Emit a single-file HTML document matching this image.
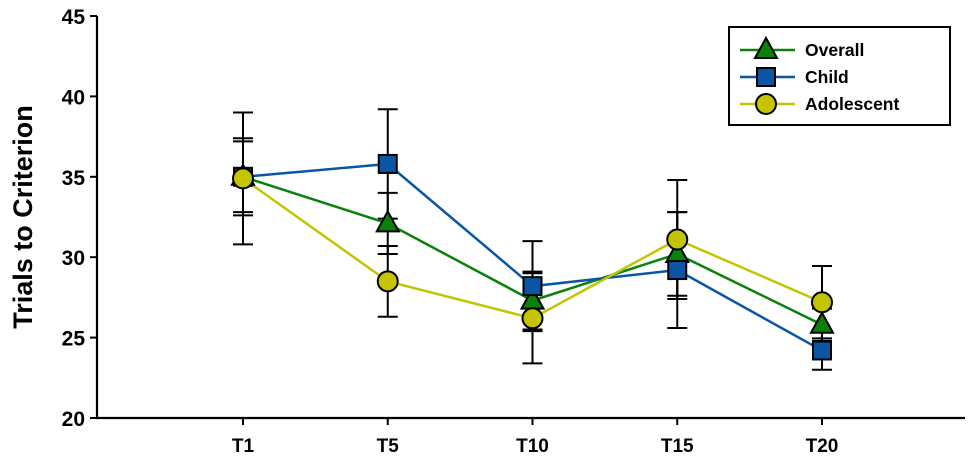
<!DOCTYPE html>
<html><head><meta charset="utf-8"><style>
body{margin:0;background:#fff}
svg{display:block;font-family:"Liberation Sans",Arial,sans-serif;font-weight:bold}
</style></head><body>
<svg id="c" width="969" height="470"></svg>
<script>
const categories=["T1","T5","T10","T15","T20"];
const overall=[35.0,32.1,27.3,30.2,25.8];
const overallErr=[2.4,1.9,1.8,2.6,1.0];
const child=[35.0,35.8,28.2,29.2,24.2];
const childErr=[2.2,3.4,2.8,3.6,1.2];
const adolescent=[34.9,28.5,26.2,31.1,27.2];
const adolescentErr=[4.1,2.2,2.8,3.7,2.25];
const yTicks=[20,25,30,35,40,45];

const NS="http://www.w3.org/2000/svg";
const svg=document.getElementById('c');
const L=97,R=965,T=16,B=418;
const y=v=>B-(v-20)/(45-20)*(B-T);
const x=i=>243+i*144.75;
function el(t,a,p){const e=document.createElementNS(NS,t);for(const k in a)e.setAttribute(k,a[k]);(p||svg).appendChild(e);return e;}

const axes=el('path',{d:`M${L},${T}V${B}H${R}`,fill:'none',stroke:'#000','stroke-width':2.2});


yTicks.forEach(v=>{
  const tk=el('line',{x1:L-7,x2:L,y1:y(v),y2:y(v),stroke:'#000','stroke-width':2});
  
  
  const t=el('text',{x:85,y:y(v)+8,'text-anchor':'end','font-size':21});
  t.textContent=v;
  
  
});
categories.forEach((c,i)=>{
  const tk=el('line',{x1:x(i),x2:x(i),y1:B,y2:B+7,stroke:'#000','stroke-width':2});
  
  
  const t=el('text',{x:x(i),y:452,'text-anchor':'middle','font-size':19});
  t.textContent=c;
  
  
});
const yt=el('text',{x:0,y:0,transform:'translate(32,217) rotate(-90)','text-anchor':'middle','font-size':27});
yt.textContent='Trials to Criterion';



const series=[
 {name:'overall',vals:overall,err:overallErr,color:'#0a820a',m:'tri'},
 {name:'child',vals:child,err:childErr,color:'#0a56a5',m:'sq'},
 {name:'adolescent',vals:adolescent,err:adolescentErr,color:'#c4c400',m:'circ'}
];
series.forEach(s=>{
  s.vals.forEach((v,i)=>{
    const g=el('g',{stroke:'#000','stroke-width':2});
    
    
    const a=y(v+s.err[i]),b=y(v-s.err[i]);
    el('line',{x1:x(i),x2:x(i),y1:a,y2:b},g);
    el('line',{x1:x(i)-10,x2:x(i)+10,y1:a,y2:a},g);
    el('line',{x1:x(i)-10,x2:x(i)+10,y1:b,y2:b},g);
  });
});
function marker(m,cx,cy,color,parent){
  if(m==='tri')return el('path',{d:`M${cx},${cy-12}L${cx+11},${cy+8}H${cx-11}Z`,fill:color,stroke:'#000','stroke-width':2},parent);
  if(m==='sq')return el('rect',{x:cx-9,y:cy-9,width:18,height:18,fill:color,stroke:'#000','stroke-width':2},parent);
  return el('circle',{cx:cx,cy:cy,r:10,fill:color,stroke:'#000','stroke-width':2},parent);
}
series.forEach(s=>{
  const ln=el('polyline',{points:s.vals.map((v,i)=>x(i)+','+y(v)).join(' '),fill:'none',stroke:s.color,'stroke-width':2.5});
  
  
});
series.forEach(s=>{
  s.vals.forEach((v,i)=>{
    const mk=marker(s.m,x(i),y(v),s.color);
    
    
  });
});
const lg=el('g',{});


el('rect',{x:729,y:27,width:221,height:98,fill:'#fff',stroke:'#000','stroke-width':2},lg);
const labels=['Overall','Child','Adolescent'];
series.forEach((s,k)=>{
  const g=el('g',{},lg);
  
  
  const ly=50+k*27;
  el('line',{x1:740,x2:795,y1:ly,y2:ly,stroke:s.color,'stroke-width':2.5},g);
  marker(s.m,766,ly,s.color,g);
  const t=el('text',{x:805,y:ly+6,'font-size':17.5},g);
  t.textContent=labels[k];
});
</script>
</body></html>
